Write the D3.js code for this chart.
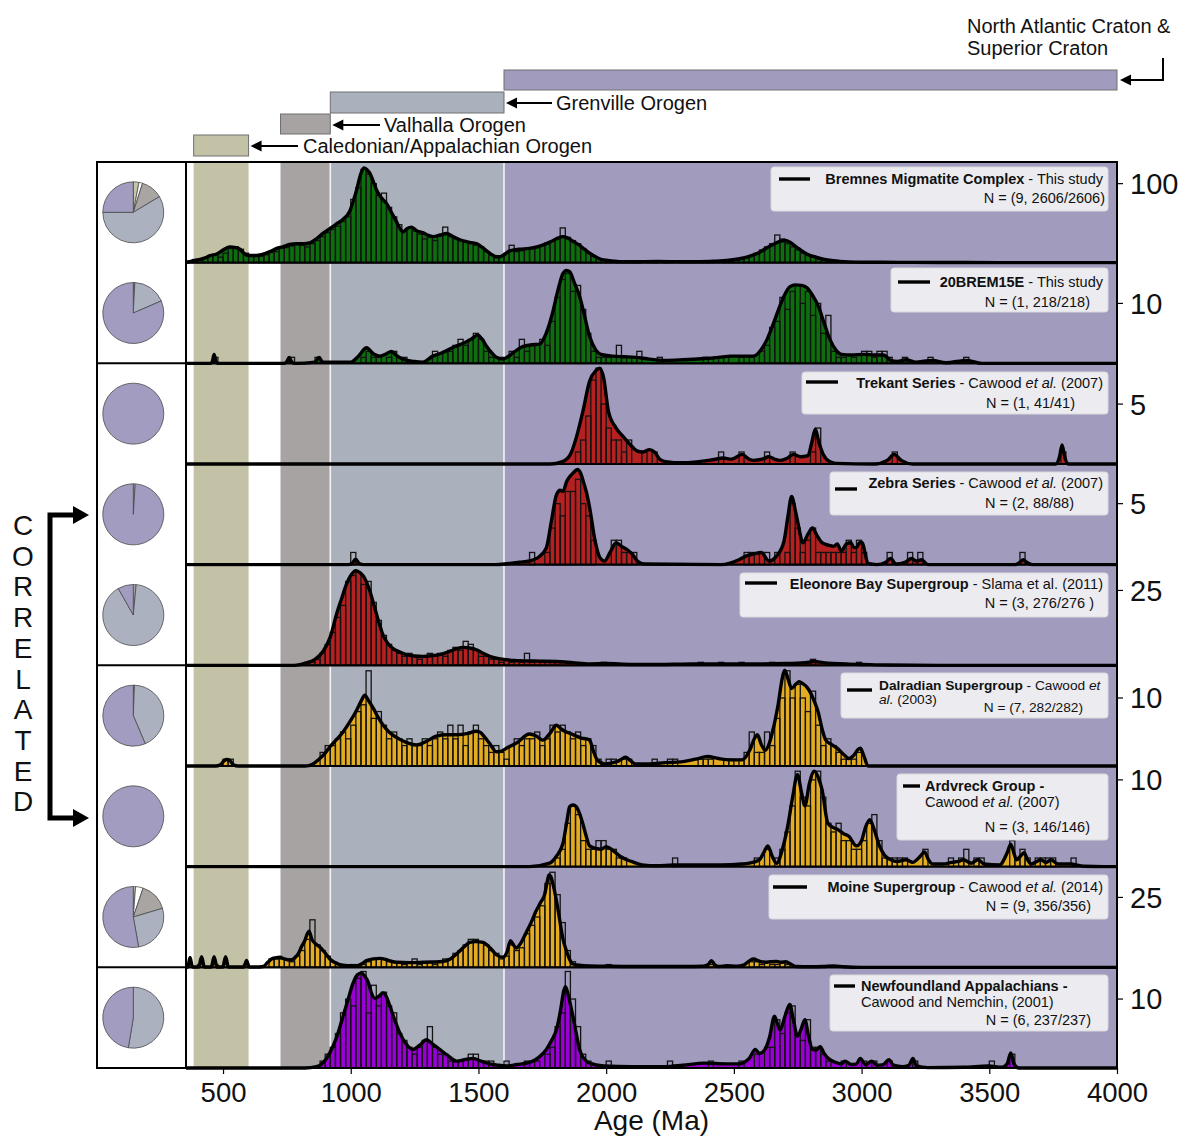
<!DOCTYPE html>
<html>
<head>
<meta charset="utf-8">
<script src="https://cdn.jsdelivr.net/npm/d3@7"></script>
<style>
  body { margin: 0; background: #fff; }
  svg { display: block; }
  text { font-family: "Liberation Sans", Arial, sans-serif; fill: #111; }
</style>
</head>
<body>
<svg id="chart" width="1189" height="1137"></svg>
<script>
// ---------------- data ----------------
const ageTicks = [500, 1000, 1500, 2000, 2500, 3000, 3500, 4000];

const provinceNames = ["Caledonian/Appalachian Orogen", "Valhalla Orogen", "Grenville Orogen", "North Atlantic Craton &\nSuperior Craton"];
const provinceStart = [385, 725, 920, 1600];
const provinceEnd = [600, 920, 1600, 4000];

const sampleTitles = ["Bremnes Migmatite Complex", "20BREM15E", "Trekant Series", "Zebra Series",
  "Eleonore Bay Supergroup", "Dalradian Supergroup", "Ardvreck Group -", "Moine Supergroup", "Newfoundland Appalachians -"];
const sampleSources = [" - This study", " - This study", " - Cawood *et al.* (2007)", " - Cawood *et al.* (2007)",
  " - Slama et al. (2011)", " - Cawood *et*\n*al.* (2003)", "\nCawood *et al.* (2007)", " - Cawood *et al.* (2014)",
  "\nCawood and Nemchin, (2001)"];
const sampleCounts = ["N = (9, 2606/2606)", "N = (1, 218/218)", "N = (1, 41/41)", "N = (2, 88/88)", "N = (3, 276/276 )",
  "N = (7, 282/282)", "N = (3, 146/146)", "N = (9, 356/356)", "N = (6, 237/237)"];

// histogram scale per panel: labelled tick and top of the count axis
const scaleTicks = [100, 10, 5, 5, 25, 10, 10, 25, 10];
const countMax = [127.4, 16.8, 8.4, 8.25, 33.6, 14.8, 11.6, 36, 14.6];

// share of ages per province: [Caledonian, unassigned, Valhalla, Grenville, North Atlantic]
const pieShares = [
  [0.03, 0.019, 0.115, 0.586, 0.25],
  [0.004, 0, 0.004, 0.177, 0.815],
  [0, 0, 0, 0, 1],
  [0, 0, 0, 0.01, 0.99],
  [0, 0, 0.015, 0.903, 0.082],
  [0.003, 0, 0.003, 0.43, 0.564],
  [0, 0, 0, 0, 1],
  [0.012, 0.04, 0.152, 0.268, 0.528],
  [0, 0, 0, 0.526, 0.474]
];

// kernel density estimates, [age (Ma), height in counts]
const bremnesKde = [[355,0],[365,1],[390,3],[410,4],[430,6],[449,9],[475,11],[500,16],[527,20],[550,19],[566,17],[585,11],[605,9],[630,9],[650,10],[684,14],[710,18],[734,20],[760,23],[788,24],[815,24],[840,25],[865,30],[891,37],[918,43],[944,49],[970,55],[996,65],[1010,78],[1023,92],[1037,110],[1051,120],[1063,118],[1075,113],[1088,103],[1101,92],[1120,82],[1140,75],[1160,63],[1179,52],[1195,42],[1205,39],[1220,43],[1238,45],[1260,40],[1282,38],[1300,35],[1322,33],[1350,35],[1375,37],[1400,33],[1427,29],[1460,26],[1492,24],[1520,18],[1544,12],[1565,8],[1583,7.5],[1600,10],[1622,15],[1660,17],[1700,18],[1740,21],[1780,26],[1810,31],[1831,33],[1850,31],[1875,26],[1896,22],[1915,17],[1935,12],[1955,8],[1974,5],[2000,3],[2030,1.8],[2052,1.3],[2100,1.2],[2200,1.4],[2300,1.3],[2365,1.3],[2420,1.8],[2480,3],[2522,5],[2560,8],[2600,13],[2630,19],[2659,24],[2680,27],[2700,28],[2720,26],[2740,21],[2757,17],[2780,12],[2800,9],[2816,7.5],[2850,4.5],[2890,2.5],[2950,1],[3000,0.5],[3150,0.4],[3300,0.3],[3538,0],[4000,0]];
const brem15eKde = [[355,0],[450,0],[458,0.3],[465,1.5],[472,0.3],[480,0],[740,0],[750,0.3],[759,1],[768,0.3],[780,0],[860,0.2],[876,1],[890,0.2],[1000,0.2],[1030,1.2],[1062,2.6],[1088,1.6],[1114,1.2],[1140,1.6],[1159,2],[1180,1.3],[1204,0.7],[1250,0.3],[1282,0.2],[1321,1.2],[1360,1.8],[1387,2.4],[1420,3],[1438,3.3],[1470,4],[1497,4.7],[1515,4],[1531,2.9],[1555,1.6],[1570,1],[1595,0.7],[1615,1.1],[1634,1.7],[1673,2.8],[1710,3.1],[1739,3.2],[1765,5],[1790,8.4],[1810,12],[1831,15],[1845,15.5],[1857,15.3],[1875,13.5],[1896,11.2],[1915,8],[1935,4.5],[1960,2.2],[1980,1.5],[2025,1.2],[2070,1.1],[2115,1],[2170,0.7],[2232,0.5],[2300,0.6],[2383,0.8],[2440,1],[2487,1.2],[2530,1.2],[2577,1.2],[2610,2.5],[2630,4],[2651,6.2],[2675,9],[2696,11.2],[2720,12.8],[2741,13.1],[2765,13],[2786,12.6],[2810,11.2],[2831,9.5],[2855,6.5],[2876,4],[2900,2.2],[2921,1.5],[2960,1.4],[3011,1.5],[3050,1.4],[3085,1.4],[3114,0.5],[3140,0.3],[3174,0.6],[3210,0.2],[3278,0.5],[3330,0.1],[3413,0.5],[3470,0],[4000,0]];
const trekantKde = [[355,0],[1780,0],[1829,0.2],[1860,0.8],[1883,2.2],[1909,4.4],[1935,6.9],[1960,7.8],[1975,8],[1990,7.2],[2009,4.4],[2039,3],[2070,2.2],[2099,1.5],[2120,1.1],[2144,1],[2170,1.2],[2189,1],[2210,0.4],[2232,0.2],[2300,0.1],[2400,0.3],[2428,0.4],[2458,0.5],[2490,0.4],[2532,0.8],[2560,0.4],[2577,0.3],[2610,0.4],[2637,0.6],[2660,0.4],[2682,0.3],[2710,0.5],[2733,0.8],[2760,0.6],[2790,0.7],[2805,1.8],[2819,2.9],[2833,1.8],[2850,0.8],[2875,0.2],[2900,0.05],[3050,0],[3100,0.3],[3128,0.8],[3155,0.3],[3200,0],[3760,0],[3775,0.6],[3785,1.6],[3795,0.6],[3810,0],[4000,0]];
const zebraKde = [[355,0],[990,0],[1005,0.1],[1019,0.45],[1033,0.1],[1050,0],[1550,0],[1622,0.1],[1660,0.2],[1700,0.3],[1740,0.7],[1766,1.4],[1785,3.5],[1805,5.7],[1820,6.1],[1831,6],[1845,6.8],[1857,7.2],[1870,7.5],[1888,7.8],[1900,7.5],[1915,6.5],[1922,6],[1935,4.7],[1957,1.9],[1975,0.6],[1994,0.3],[2015,1],[2039,1.8],[2060,1.5],[2084,1.2],[2105,0.8],[2122,0.3],[2150,0.05],[2450,0],[2520,0.4],[2547,0.7],[2580,0.9],[2607,1],[2637,0.3],[2667,0.7],[2696,1.9],[2712,4],[2726,5.6],[2740,4.5],[2749,3.6],[2771,1.8],[2790,2.5],[2808,3],[2825,2.4],[2845,1.8],[2870,1.6],[2890,1.5],[2905,1.7],[2921,1.1],[2940,1.7],[2958,1.8],[2970,1.4],[2980,1.4],[2992,1.8],[3003,1.8],[3015,0.8],[3025,0.1],[3060,0],[3095,0.2],[3114,0.5],[3135,0.05],[3170,0.2],[3196,0.5],[3215,0.3],[3234,0.4],[3260,0],[3600,0],[3620,0.2],[3633,0.4],[3646,0.2],[3670,0],[4000,0]];
const eleonoreKde = [[355,0],[780,0],[827,0.8],[860,2],[892,4.7],[920,9.5],[944,17],[965,22.5],[983,27],[1000,30],[1020,31.6],[1038,30.8],[1055,29],[1070,26],[1088,21],[1108,15],[1127,10],[1146,7.2],[1166,5.6],[1190,4.5],[1218,3.6],[1250,3.1],[1283,3],[1315,3.2],[1348,3.6],[1380,4.4],[1410,5.4],[1440,6],[1465,5.8],[1492,5.2],[1518,4],[1544,3],[1575,2.3],[1609,1.9],[1640,1.6],[1674,1.5],[1740,1.4],[1805,1.3],[1870,0.9],[1935,0.5],[2000,0.6],[2100,0.3],[2200,0.3],[2300,0.4],[2400,0.5],[2500,0.5],[2600,0.5],[2700,0.6],[2780,0.9],[2815,1.3],[2850,0.9],[2950,0.4],[3000,0.3],[3100,0.1],[3300,0],[4000,0]];
const dalradianKde = [[355,0],[470,0],[490,0.2],[505,0.8],[515,0.95],[527,0.8],[540,0.2],[560,0],[820,0],[840,0.1],[860,0.5],[879,1.1],[900,1.9],[918,2.8],[945,3.9],[970,5],[995,6.4],[1023,8.2],[1040,9.5],[1055,10.4],[1070,9.6],[1088,8.5],[1108,7.1],[1127,6],[1150,5],[1179,4.2],[1215,3.5],[1257,3.1],[1295,3.6],[1335,4.4],[1375,4.6],[1414,4.6],[1460,4.8],[1490,5.1],[1505,5],[1525,4.2],[1544,3.3],[1570,2.1],[1590,2.2],[1609,2.6],[1650,3.4],[1700,4.7],[1726,4.4],[1752,3.8],[1780,4.8],[1805,6],[1825,5.4],[1844,5],[1865,4.7],[1883,4.4],[1903,4.1],[1922,4],[1935,3.8],[1950,2.2],[1965,0.9],[1994,0.3],[2039,0.6],[2060,1],[2076,1.3],[2095,0.8],[2115,0.3],[2170,0.3],[2232,0.5],[2293,0.6],[2350,1],[2397,1.4],[2440,1.1],[2487,0.9],[2532,0.9],[2562,2.3],[2580,4],[2592,4.6],[2607,3.2],[2622,2.3],[2640,3.5],[2651,5],[2674,9.2],[2690,13],[2699,14.1],[2712,12.8],[2726,11.4],[2742,12],[2756,12.4],[2770,12.1],[2786,11.6],[2801,10.7],[2815,9.5],[2831,7.8],[2845,5.5],[2860,3.8],[2880,3.2],[2905,2.6],[2930,1.7],[2950,1.1],[2970,1.6],[2985,2.4],[2995,2.6],[3008,1.6],[3025,0],[4000,0]];
const ardvreckKde = [[355,0],[1700,0],[1779,0.4],[1805,1.2],[1831,2.7],[1845,5],[1857,6.9],[1870,7.1],[1883,6.9],[1896,6.1],[1910,4.8],[1922,3.5],[1935,2.4],[1960,2.1],[1980,2],[2000,2.3],[2009,2.2],[2030,1.8],[2054,1.2],[2080,0.8],[2099,0.6],[2140,0.2],[2200,0.1],[2263,0.2],[2350,0.2],[2450,0.2],[2530,0.3],[2560,0.4],[2600,0.8],[2620,1.8],[2633,2.4],[2650,1.2],[2667,0.4],[2690,2],[2711,4.7],[2730,8],[2749,10.6],[2765,8.5],[2778,7],[2795,9.5],[2815,11],[2830,10.3],[2845,8.9],[2868,5],[2890,4.5],[2905,4.3],[2930,3.8],[2950,3.5],[2980,2.4],[3000,3],[3015,4.5],[3032,5.4],[3050,4.2],[3070,2.4],[3090,1.3],[3114,0.8],[3140,0.6],[3174,0.8],[3200,0.5],[3230,1.2],[3246,1.7],[3262,0.8],[3278,0.3],[3320,0.3],[3353,0.5],[3380,0.6],[3398,0.8],[3430,0.4],[3456,0.8],[3480,0.3],[3540,0.2],[3570,1.6],[3584,2.6],[3597,1.5],[3607,0.8],[3622,1.2],[3636,1.6],[3650,0.8],[3665,0.3],[3680,0.5],[3702,0.8],[3722,0.5],[3742,0.8],[3770,0.3],[3816,0.3],[3870,0.05],[3950,0],[4000,0]];
const moineKde = [[355,0],[362,0.1],[371,3.5],[380,0.1],[405,0.1],[416,3.8],[427,0.1],[454,0.1],[465,3.8],[476,0.1],[499,0.1],[510,3.8],[521,0.1],[582,0.1],[592,2.5],[602,0.1],[630,0.1],[657,0.3],[675,1.8],[690,3],[705,3.4],[723,3.6],[740,3],[762,2.6],[780,3.3],[794,4.8],[808,7.5],[820,9.5],[830,12],[837,12.9],[848,10],[860,8.6],[876,7.5],[892,6],[905,4.5],[918,3],[937,1.8],[957,1],[990,0.6],[1023,0.6],[1045,1.4],[1062,2.4],[1088,3],[1114,3.2],[1145,2.6],[1179,1.8],[1230,1.7],[1283,1.8],[1320,1.9],[1361,2.1],[1390,3],[1414,4.8],[1440,7],[1466,8.9],[1490,9.2],[1518,8.9],[1545,7],[1570,4.5],[1596,3.6],[1612,5.5],[1625,9.5],[1636,8.2],[1648,6.9],[1668,9],[1687,12.5],[1706,16],[1726,20.2],[1742,23],[1759,26],[1770,31],[1776,33],[1783,32.5],[1791,30],[1805,24],[1818,17],[1830,10.5],[1844,6],[1857,2.8],[1870,1.2],[1900,0.7],[1935,0.5],[2000,0.4],[2100,0.3],[2200,0.3],[2300,0.3],[2380,0.4],[2400,1],[2412,2.4],[2424,1],[2440,0.3],[2472,0.6],[2510,0.4],[2540,0.9],[2562,2.4],[2577,3],[2600,2.2],[2622,1.8],[2645,2],[2667,2.1],[2685,1.8],[2704,2],[2722,1.2],[2741,0.3],[2800,0.2],[2850,0.3],[2890,0.5],[2930,0.2],[3000,0],[4000,0]];
const newfoundlandKde = [[355,0],[820,0],[866,0.2],[895,0.9],[918,2.2],[945,4.5],[970,7.5],[990,10],[1009,12.3],[1025,13.5],[1042,13.8],[1055,13.3],[1068,12.5],[1080,11],[1094,10.1],[1110,10.4],[1127,10.9],[1140,10.3],[1153,9],[1172,7],[1192,5.1],[1215,3.6],[1244,2.7],[1270,3.3],[1296,4.1],[1320,3.5],[1348,2.7],[1380,1.8],[1414,1],[1445,1.2],[1479,1.4],[1510,1],[1544,0.6],[1580,0.4],[1609,0.3],[1650,0.5],[1700,0.8],[1735,1.5],[1766,2.7],[1786,4],[1805,5.5],[1822,8.5],[1834,11.2],[1841,11.8],[1855,10],[1870,7.5],[1883,5],[1896,2.7],[1922,1],[1935,0.7],[1990,0.3],[2100,0.2],[2232,0.2],[2300,0.4],[2383,0.7],[2472,0.6],[2520,0.6],[2560,1.4],[2584,2.7],[2600,2.1],[2622,2.7],[2640,4.5],[2659,7.5],[2670,6.5],[2681,5.5],[2700,7.5],[2719,9.2],[2733,7],[2749,4.6],[2762,5.5],[2778,7],[2793,4.5],[2808,2.7],[2823,2.6],[2838,3.1],[2855,2],[2876,1.2],[2900,0.8],[2920,0.6],[2935,1],[2960,0.5],[2980,0.6],[2995,1.4],[3015,0.5],[3040,1],[3060,0.4],[3085,0.5],[3107,1.2],[3125,0.4],[3160,0.2],[3185,0.4],[3201,1.4],[3215,0.3],[3260,0.05],[3400,0.1],[3496,0.3],[3550,0.1],[3570,0.6],[3584,2.2],[3597,0.6],[3615,0],[4000,0]];

// 20 Ma histogram bins: Bremnes as consecutive counts, the rest as [bin start, count]
const bremnesFirstBin = 360;
const bremnesCounts = [
  2,4,3,6,9,10,7,12,18,20,
  17,12,8,9,8,10,13,14,18,19,
  21,23,22,20,24,28,33,38,42,46,
  52,58,80,95,118,112,100,85,88,70,
  58,48,40,44,40,36,30,32,28,34,
  45,33,31,28,26,24,22,20,14,10,
  6,8,12,22,14,15,17,18,19,22,
  25,27,30,44,32,28,24,18,12,8,
  5,3,2,1,1,1,0,1,1,0,
  1,1,0,1,1,0,1,1,1,1,
  1,1,2,1,1,2,2,3,4,6,
  9,12,16,20,24,35,30,24,20,16,
  12,9,7,4,3,2,1,1,0,1
];
const brem15eBins = [[460,1],[760,1],[860,1],[1040,1],[1060,2],[1080,1],[1100,1],[1140,1],[1160,2],[1200,1],[1320,2],[1360,2],[1380,2],[1400,3],[1420,4],[1440,3],[1460,4],[1480,5],[1500,4],[1520,2],[1540,1],[1580,1],[1620,2],[1640,1],[1660,4],[1680,2],[1700,3],[1720,3],[1740,4],[1760,3],[1780,7],[1800,11],[1820,14],[1840,15],[1860,12],[1880,13],[1900,9],[1920,5],[1940,2],[1960,1],[1980,1],[2000,1],[2040,3],[2060,1],[2100,1],[2120,2],[2200,1],[2380,1],[2420,1],[2460,1],[2520,1],[2560,1],[2600,2],[2620,3],[2640,6],[2660,7],[2680,11],[2700,9],[2720,12],[2740,13],[2760,10],[2780,12],[2800,8],[2820,10],[2840,5],[2860,8],[2880,2],[2900,1],[2920,1],[2960,1],[3000,2],[3020,2],[3040,1],[3060,2],[3080,2],[3100,1],[3160,1],[3260,1],[3400,1]];
const trekantBins = [[1880,1],[1900,2],[1920,4],[1940,7],[1960,8],[1980,5],[2000,3],[2020,2],[2040,2],[2060,1],[2080,2],[2140,1],[2180,1],[2440,1],[2520,1],[2620,1],[2720,1],[2800,1],[2820,3],[3120,1],[3780,1]];
const zebraBins = [[1000,1],[1700,1],[1760,1],[1780,3],[1800,5],[1820,4],[1840,6],[1860,6],[1880,7],[1900,5],[1920,4],[1940,2],[2020,2],[2040,2],[2060,1],[2080,1],[2100,1],[2540,1],[2560,1],[2600,1],[2620,1],[2660,1],[2700,1],[2720,5],[2740,3],[2760,1],[2780,2],[2800,3],[2820,1],[2840,1],[2860,1],[2880,1],[2900,1],[2920,1],[2940,2],[2960,1],[2980,2],[3000,1],[3100,1],[3180,1],[3220,1],[3620,1]];
const eleonoreBins = [[820,1],[840,1],[860,2],[880,4],[900,7],[920,11],[940,16],[960,20],[980,28],[1000,30],[1020,31],[1040,27],[1060,28],[1080,21],[1100,15],[1120,10],[1140,7],[1160,5],[1180,4],[1200,3],[1220,4],[1240,3],[1260,2],[1280,3],[1300,4],[1320,3],[1340,4],[1360,3],[1380,5],[1400,6],[1420,5],[1440,8],[1460,7],[1480,5],[1500,3],[1520,3],[1540,2],[1560,2],[1580,1],[1600,2],[1620,1],[1660,1],[1680,4],[1700,1],[1740,1],[1780,1],[1800,1],[1980,1],[2360,1],[2440,1],[2520,1],[2640,1],[2800,2],[2980,1]];
const dalradianBins = [[500,1],[520,1],[880,2],[900,3],[920,3],[940,4],[960,5],[980,4],[1000,6],[1020,8],[1040,9],[1060,14],[1080,7],[1100,8],[1120,6],[1140,4],[1160,5],[1180,4],[1200,3],[1220,4],[1240,3],[1260,3],[1280,4],[1300,3],[1320,4],[1340,5],[1360,4],[1380,6],[1400,4],[1420,6],[1440,3],[1460,5],[1480,6],[1500,4],[1520,3],[1540,2],[1560,3],[1580,2],[1600,1],[1620,3],[1640,4],[1660,3],[1680,4],[1700,4],[1720,5],[1740,3],[1760,4],[1780,6],[1800,5],[1820,6],[1840,5],[1860,4],[1880,5],[1900,3],[1920,4],[1940,3],[1960,1],[2000,1],[2020,1],[2060,1],[2080,1],[2180,1],[2240,1],[2260,1],[2360,1],[2380,1],[2400,1],[2460,1],[2480,1],[2520,1],[2540,2],[2560,5],[2580,2],[2600,2],[2620,5],[2640,3],[2660,7],[2680,10],[2700,14],[2720,10],[2740,12],[2760,10],[2780,8],[2800,11],[2820,6],[2840,3],[2860,4],[2880,3],[2900,2],[2920,1],[2940,1],[2960,1],[2980,2]];
const ardvreckBins = [[1800,1],[1820,2],[1840,5],[1860,7],[1880,6],[1900,3],[1920,2],[1940,2],[1960,3],[1980,3],[2000,2],[2020,2],[2040,1],[2060,1],[2260,1],[2580,1],[2620,2],[2660,1],[2680,2],[2700,4],[2720,7],[2740,11],[2760,8],[2780,7],[2800,10],[2820,11],[2840,8],[2860,5],[2880,4],[2900,5],[2920,3],[2940,3],[2960,2],[2980,2],[3000,3],[3020,5],[3040,6],[3060,3],[3080,1],[3100,1],[3120,1],[3140,1],[3160,1],[3240,2],[3340,1],[3380,1],[3400,2],[3440,1],[3460,1],[3580,3],[3600,1],[3620,2],[3640,1],[3680,1],[3700,1],[3720,1],[3740,1],[3820,1]];
const moineBins = [[360,1],[400,1],[460,1],[500,1],[580,1],[680,3],[700,3],[720,3],[740,3],[760,2],[780,4],[800,6],[820,10],[840,17],[860,8],[880,6],[900,4],[920,2],[940,1],[960,1],[1000,1],[1040,1],[1060,2],[1080,3],[1100,3],[1120,3],[1140,2],[1160,2],[1180,2],[1200,1],[1220,2],[1240,3],[1260,1],[1280,2],[1300,2],[1320,1],[1340,2],[1360,3],[1380,3],[1400,5],[1420,6],[1440,8],[1460,10],[1480,10],[1500,9],[1520,8],[1540,6],[1560,5],[1580,3],[1600,4],[1620,8],[1640,6],[1660,7],[1680,12],[1700,15],[1720,18],[1740,22],[1760,30],[1780,34],[1800,26],[1820,16],[1840,6],[1860,2],[1880,1],[2000,1],[2400,1],[2560,2],[2580,2],[2600,1],[2640,1],[2660,1],[2680,2],[2700,1]];
const newfoundlandBins = [[880,1],[900,2],[920,3],[940,5],[960,8],[980,10],[1000,9],[1020,13],[1040,14],[1060,8],[1080,12],[1100,9],[1120,11],[1140,9],[1160,8],[1180,5],[1200,4],[1220,3],[1240,2],[1260,3],[1280,4],[1300,6],[1320,3],[1340,2],[1360,2],[1380,1],[1400,1],[1420,1],[1460,2],[1480,2],[1500,1],[1520,1],[1540,1],[1600,1],[1680,1],[1720,1],[1760,2],[1780,3],[1800,6],[1820,8],[1840,14],[1860,10],[1880,6],[1900,2],[1920,1],[2000,1],[2240,1],[2400,1],[2520,1],[2580,2],[2620,3],[2640,3],[2660,7],[2680,5],[2700,8],[2720,9],[2740,5],[2760,4],[2780,7],[2800,3],[2820,3],[2840,2],[2860,1],[2920,1],[3000,1],[3040,1],[3100,1],[3200,1],[3500,1],[3580,2]];

// ---------------- layout & style ----------------
const BIN = 20;
const provinceColors = ["#c3c2a7", "#a6a3a2", "#abb0bd", "#a19bbd"];
const pieColors = ["#c6c4a6", "#ffffff", "#a8a5a3", "#abb1bf", "#a19cc0"];
const fillColors = ["#0c6e0c", "#0c6e0c", "#b52121", "#b52121", "#b52121", "#e3ac22", "#e3ac22", "#e3ac22", "#9a00d6"];

const kdes = [bremnesKde, brem15eKde, trekantKde, zebraKde, eleonoreKde, dalradianKde, ardvreckKde, moineKde, newfoundlandKde];
const hists = [
  bremnesCounts.map((c, i) => [bremnesFirstBin + i * BIN, c]).filter(d => d[1] > 0),
  brem15eBins, trekantBins, zebraBins, eleonoreBins, dalradianBins, ardvreckBins, moineBins, newfoundlandBins
];

const xLeft = 186, xRight = 1117, plotTop = 162, plotBottom = 1068;
const panelH = (plotBottom - plotTop) / 9;
const pieLeft = 97;

const svg = d3.select("#chart");
const x = d3.scaleLinear().domain([355, 4000]).range([xLeft, xRight]);
const binPx = x(355 + BIN) - x(355);

const defs = svg.append("defs");

// background bands for the source provinces
provinceStart.forEach((s, i) => {
  svg.append("rect")
    .attr("x", x(s)).attr("y", plotTop)
    .attr("width", x(provinceEnd[i]) - x(s)).attr("height", plotBottom - plotTop)
    .attr("fill", provinceColors[i]);
});
[920, 1600].forEach(a => {
  svg.append("line").attr("x1", x(a)).attr("x2", x(a)).attr("y1", plotTop).attr("y2", plotBottom)
    .attr("stroke", "#f4f4f6").attr("stroke-width", 1.6);
});

// province key boxes above the panels
const keyRows = [[135, 156], [114, 134], [92, 113], [70, 90]];
provinceStart.forEach((s, i) => {
  svg.append("rect")
    .attr("x", x(s)).attr("y", keyRows[i][0])
    .attr("width", x(provinceEnd[i]) - x(s)).attr("height", keyRows[i][1] - keyRows[i][0])
    .attr("fill", provinceColors[i]).attr("stroke", "#707070").attr("stroke-width", 1);
});

function arrowHead(tipX, tipY, dir) {
  // dir: -1 points left, +1 points right
  const L = 11, Hh = 5.5;
  return `M${tipX},${tipY} L${tipX - dir * L},${tipY - Hh} L${tipX - dir * L},${tipY + Hh} Z`;
}
function leftArrow(tipX, y, tailX) {
  svg.append("line").attr("x1", tipX + 8).attr("x2", tailX).attr("y1", y).attr("y2", y)
    .attr("stroke", "#000").attr("stroke-width", 2);
  svg.append("path").attr("d", arrowHead(tipX, y, -1)).attr("fill", "#000");
}

const keyLabelFont = 20;
leftArrow(x(600) + 2, 146, 298);
svg.append("text").attr("x", 303).attr("y", 153).attr("font-size", keyLabelFont).text(provinceNames[0]);
leftArrow(x(920) + 2, 125, 380);
svg.append("text").attr("x", 384).attr("y", 132).attr("font-size", keyLabelFont).text(provinceNames[1]);
leftArrow(x(1600) + 2, 103, 552);
svg.append("text").attr("x", 556).attr("y", 110).attr("font-size", keyLabelFont).text(provinceNames[2]);
provinceNames[3].split("\n").forEach((t, k) => {
  svg.append("text").attr("x", 967).attr("y", 33 + k * 22).attr("font-size", keyLabelFont).text(t);
});
svg.append("path").attr("d", `M1163,58 V80 H${x(4000) + 12}`).attr("fill", "none")
  .attr("stroke", "#000").attr("stroke-width", 2);
svg.append("path").attr("d", arrowHead(x(4000) + 3, 80, -1)).attr("fill", "#000");

// pie column background
svg.append("rect").attr("x", pieLeft).attr("y", plotTop).attr("width", xLeft - pieLeft)
  .attr("height", plotBottom - plotTop).attr("fill", "#fff");

// panels
const area = (base, y) => d3.area().x(d => x(d[0])).y0(base).y1(d => y(d[1])).curve(d3.curveMonotoneX);
const line = (y) => d3.line().x(d => x(d[0])).y(d => y(d[1])).curve(d3.curveMonotoneX);
const pie = d3.pie().sort(null).value(d => d);
const arc = d3.arc().innerRadius(0).outerRadius(30.5);

kdes.forEach((kde, i) => {
  const top = plotTop + i * panelH, base = top + panelH;
  const y = d3.scaleLinear().domain([0, countMax[i]]).range([base, top]);

  defs.append("clipPath").attr("id", "clip" + i)
    .append("rect").attr("x", xLeft).attr("y", top).attr("width", xRight - xLeft).attr("height", panelH + 2);

  const g = svg.append("g").attr("clip-path", `url(#clip${i})`);
  g.append("path").datum(kde).attr("d", area(base, y)).attr("fill", fillColors[i]);
  g.selectAll("rect.bar").data(hists[i]).join("rect")
    .attr("class", "bar")
    .attr("x", d => x(d[0])).attr("width", binPx)
    .attr("y", d => y(d[1])).attr("height", d => base - y(d[1]))
    .attr("fill", "none").attr("stroke", "#141414").attr("stroke-width", 1.3);
  g.append("path").datum(kde).attr("d", line(y)).attr("fill", "none")
    .attr("stroke", "#000").attr("stroke-width", 3.4).attr("stroke-linejoin", "round");

  // count scale tick on the right
  svg.append("line").attr("x1", xRight).attr("x2", xRight + 6)
    .attr("y1", y(scaleTicks[i])).attr("y2", y(scaleTicks[i])).attr("stroke", "#000").attr("stroke-width", 1.2);
  svg.append("text").attr("x", xRight + 13).attr("y", y(scaleTicks[i]))
    .attr("dy", "0.36em").attr("font-size", 29).text(scaleTicks[i]);

  // pie of province shares
  const pg = svg.append("g").attr("transform", `translate(133.3,${top + panelH / 2})`);
  pg.selectAll("path").data(pie(pieShares[i]).filter(d => d.data > 0)).join("path")
    .attr("d", arc).attr("fill", d => pieColors[d.index])
    .attr("stroke", "#4a4a4a").attr("stroke-width", 0.8);
});

// panel separators and frame
for (let i = 1; i < 9; i++) {
  const yy = plotTop + i * panelH;
  svg.append("line").attr("x1", xLeft).attr("x2", xRight).attr("y1", yy).attr("y2", yy)
    .attr("stroke", "#000").attr("stroke-width", 2.2);
}
[plotTop, plotBottom].forEach(yy => {
  svg.append("line").attr("x1", pieLeft).attr("x2", xRight).attr("y1", yy).attr("y2", yy)
    .attr("stroke", "#000").attr("stroke-width", 2);
});
[2, 5, 8].forEach(i => {
  const yy = plotTop + i * panelH;
  svg.append("line").attr("x1", pieLeft).attr("x2", xLeft).attr("y1", yy).attr("y2", yy)
    .attr("stroke", "#000").attr("stroke-width", 2);
});
[pieLeft, xLeft, xRight].forEach(xx => {
  svg.append("line").attr("x1", xx).attr("x2", xx).attr("y1", plotTop - 1).attr("y2", plotBottom + 1)
    .attr("stroke", "#000").attr("stroke-width", 2);
});

// legends
const legendLayout = [
  { box: [771, 167, 1108, 211], sample: [779, 810, 179], anchor: "end", l1: [1103, 184], n: [1105, 203] },
  { box: [891, 268, 1108, 312], sample: [898, 930, 282], anchor: "end", l1: [1103, 287], n: [1090, 307] },
  { box: [802, 372, 1108, 414], sample: [806, 838, 382], anchor: "end", l1: [1103, 388], n: [1075, 408] },
  { box: [830, 472, 1108, 515], sample: [835, 857, 489], anchor: "end", l1: [1103, 488], n: [1074, 508] },
  { box: [740, 573, 1108, 617], sample: [745, 777, 583], anchor: "end", l1: [1103, 589], n: [1094, 608] },
  { box: [841, 673, 1108, 718], sample: [847, 872, 690], anchor: "start", l1: [879, 690], l2: [879, 704], n: [1083, 712], size: 13.7 },
  { box: [897, 774, 1108, 840], sample: [903, 920, 786], anchor: "start", l1: [925, 791], l2: [925, 807], n: [1090, 832] },
  { box: [769, 875, 1108, 919], sample: [773, 807, 887], anchor: "end", l1: [1103, 892], n: [1091, 911] },
  { box: [830, 975, 1108, 1031], sample: [834, 855, 986], anchor: "start", l1: [861, 991], l2: [861, 1007], n: [1091, 1025] }
];
const legendFont = 14.5;

function addSegments(textSel, str, bold) {
  // *...* marks italic runs
  str.split("*").forEach((part, k) => {
    if (!part) return;
    const t = textSel.append("tspan").text(part);
    if (k % 2 === 1) t.attr("font-style", "italic");
    if (bold) t.attr("font-weight", "bold");
  });
}

legendLayout.forEach((L, i) => {
  const [x0, y0, x1, y1] = L.box;
  const fs = L.size || legendFont;
  svg.append("rect").attr("x", x0).attr("y", y0).attr("width", x1 - x0).attr("height", y1 - y0)
    .attr("rx", 3).attr("fill", "#ebebf0").attr("stroke", "#d9d9de").attr("stroke-width", 1);
  svg.append("line").attr("x1", L.sample[0]).attr("x2", L.sample[1]).attr("y1", L.sample[2]).attr("y2", L.sample[2])
    .attr("stroke", "#000").attr("stroke-width", 3.4);

  const parts = sampleSources[i].split("\n");
  const t1 = svg.append("text").attr("x", L.l1[0]).attr("y", L.l1[1])
    .attr("font-size", fs).attr("text-anchor", L.anchor).style("white-space", "pre");
  addSegments(t1, sampleTitles[i], true);
  addSegments(t1, parts[0], false);
  if (parts.length > 1) {
    const t2 = svg.append("text").attr("x", L.l2[0]).attr("y", L.l2[1])
      .attr("font-size", fs).attr("text-anchor", "start").style("white-space", "pre");
    addSegments(t2, parts[1], false);
  }
  svg.append("text").attr("x", L.n[0]).attr("y", L.n[1]).attr("font-size", fs)
    .attr("text-anchor", "end").style("white-space", "pre").text(sampleCounts[i]);
});

// age axis
const xAxis = svg.append("g").attr("transform", `translate(0,${plotBottom})`)
  .call(d3.axisBottom(x).tickValues(ageTicks).tickSize(6).tickPadding(8).tickFormat(d3.format("d")));
xAxis.select(".domain").remove();
xAxis.selectAll(".tick line").attr("stroke", "#000").attr("stroke-width", 1.2);
xAxis.selectAll(".tick text").attr("font-size", 27.5).attr("fill", "#111")
  .attr("font-family", "'Liberation Sans', Arial, sans-serif");
svg.append("text").attr("x", (xLeft + xRight) / 2).attr("y", 1130).attr("text-anchor", "middle")
  .attr("font-size", 28).text("Age (Ma)");

// correlation bracket
const corr = "CORRELATED".split("");
corr.forEach((c, k) => {
  svg.append("text").attr("x", 23).attr("y", 535 + k * 30.7).attr("text-anchor", "middle")
    .attr("font-size", 28).text(c);
});
svg.append("path").attr("d", "M76,515 H50 V818 H76").attr("fill", "none")
  .attr("stroke", "#000").attr("stroke-width", 5).attr("stroke-linejoin", "miter");
svg.append("path").attr("d", "M89,515 L73,506 L73,524 Z").attr("fill", "#000");
svg.append("path").attr("d", "M89,818 L73,809 L73,827 Z").attr("fill", "#000");
</script>
</body>
</html>
